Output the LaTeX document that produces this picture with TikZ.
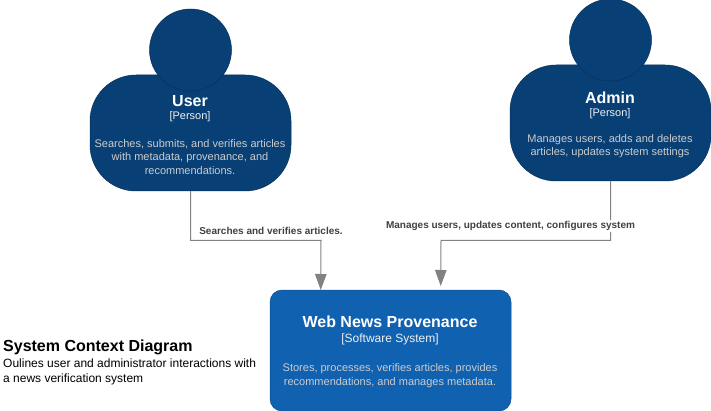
\documentclass[tikz,border=0pt]{standalone}
\usepackage{fontspec}
\setmainfont{Liberation Sans}
\usetikzlibrary{arrows.meta}
\definecolor{personfill}{HTML}{083F75}
\definecolor{personline}{HTML}{06315C}
\definecolor{sysfill}{HTML}{1061B0}
\definecolor{sysline}{HTML}{0D5091}
\definecolor{edgecol}{HTML}{828282}
\definecolor{desccol}{HTML}{CCCCCC}
\definecolor{labelcol}{HTML}{404040}
\newcommand{\fs}[2]{\fontsize{#1}{#2}\selectfont}
\tikzset{
  x=1pt,y=-1pt,
  personbody/.style={draw=personline,fill=personfill,line width=.5pt,rounded corners=46pt,minimum width=201pt,minimum height=116pt,inner sep=0pt},
  personhead/.style={draw=personline,fill=personfill,line width=.5pt,circle,minimum size=82pt,inner sep=0pt},
  sysbox/.style={draw=sysline,fill=sysfill,line width=.5pt,rounded corners=12pt,minimum width=241pt,minimum height=121pt,inner sep=0pt},
  titletext/.style={text=white,font=\fs{16}{19}\bfseries,align=center},
  typetext/.style={text=desccol!30!white,font=\fs{11}{13},align=center},
  desctext/.style={text=desccol,font=\fs{11}{13.5},align=center},
  flow/.style={draw=edgecol,line width=1pt,-{Triangle[length=16pt,width=11.5pt,fill=edgecol]}},
  flowlabel/.style={text=labelcol,font=\fs{10}{12}\bfseries,fill=white,inner sep=1pt},
  notehead/.style={text=black,font=\fs{16}{19}\bfseries,anchor=west,inner sep=0pt},
  notebody/.style={text=black,font=\fs{12}{15},anchor=west,align=left,inner sep=0pt}
}
\begin{document}
\begin{tikzpicture}
\useasboundingbox (0,0) rectangle (711,411);
% person: user
\node[personbody] (userbody) at (190.5,133) {};
\node[personhead] (userhead) at (190.5,50) {};
\node[titletext] (usertitle) at (190,101) {User};
\node[typetext] (usertype) at (190,116.5) {[Person]};
\node[desctext] (userdesc) at (190,157) {Searches, submits, and verifies articles\\with metadata, provenance, and\\recommendations.};
% person: admin
\node[personbody] (adminbody) at (610.5,123) {};
\node[personhead] (adminhead) at (610.5,40) {};
\node[titletext] (admintitle) at (610,98) {Admin};
\node[typetext] (admintype) at (610,113.5) {[Person]};
\node[desctext] (admindesc) at (610,146) {Manages users, adds and deletes\\articles, updates system settings};
% system
\node[sysbox] (sys) at (390.5,350.5) {};
\node[titletext] (systitle) at (390,321.5) {Web News Provenance};
\node[typetext,font=\fs{12}{14}] (systype) at (390,339) {[Software System]};
\node[desctext] (sysdesc) at (390,375.5) {Stores, processes, verifies articles, provides\\recommendations, and manages metadata.};
% connectors
\coordinate (userelbow) at (321,240.5);
\coordinate (userin) at (320.7,290);
\coordinate (adminelbow) at (441,240.5);
\coordinate (adminin) at (440.7,286);
\draw[flow] (userbody.south) |- (userelbow) -- (userin);
\draw[flow] (adminbody.south) |- (adminelbow) -- (adminin);
\node[flowlabel] (userflow) at (271,231) {Searches and verifies articles.};
\node[flowlabel] (adminflow) at (510.5,226) {Manages users, updates content, configures system};
% note
\node[notehead] (notetitle) at (3,347) {System Context Diagram};
\node[notebody] (notetext) at (3,371.5) {Oulines user and administrator interactions with\\a news verification system};
\end{tikzpicture}
\end{document}
